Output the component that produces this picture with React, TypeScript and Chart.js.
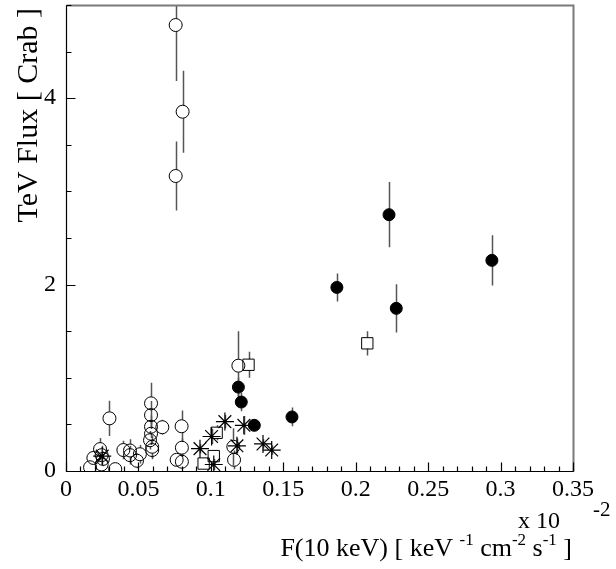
import { useEffect, useRef } from "react";
import { Chart, registerables } from "chart.js";

Chart.register(...registerables);

// X in units of 10^-2 keV^-1 cm^-2 s^-1, Y in Crab units
const filledX = [0.119, 0.121, 0.130, 0.156, 0.187, 0.223, 0.228, 0.294];
const filledY = [0.90, 0.74, 0.49, 0.58, 1.97, 2.75, 1.745, 2.26];
const filledErr = [0.10, 0.10, 0.06, 0.10, 0.15, 0.35, 0.26, 0.27];

const openX = [0.0757, 0.0805, 0.0757, 0.119, 0.030, 0.0587, 0.0587, 0.0587, 0.0587, 0.058, 0.0595, 0.0595, 0.0665, 0.0798, 0.080, 0.080, 0.0764, 0.0396, 0.0442, 0.0442, 0.049, 0.051, 0.0235, 0.0246, 0.0255, 0.0189, 0.0166, 0.034, 0.0246, 0.1155, 0.116];
const openY = [4.785, 3.855, 3.165, 1.13, 0.565, 0.726, 0.60, 0.475, 0.40, 0.33, 0.26, 0.225, 0.47, 0.48, 0.25, 0.10, 0.12, 0.225, 0.22, 0.17, 0.11, 0.18, 0.235, 0.17, 0.13, 0.14, 0.04, 0.02, 0.07, 0.26, 0.12];
const openErr = [0.6, 0.44, 0.37, 0.37, 0.19, 0.22, 0.15, 0.12, 0.12, 0.10, 0.12, 0.10, 0.08, 0.17, 0.10, 0.08, 0.06, 0.10, 0.12, 0.10, 0.08, 0.10, 0.12, 0.10, 0.08, 0.06, 0.05, 0.04, 0.05, 0.20, 0.10];

const squareX = [0.208, 0.126, 0.104, 0.102, 0.095];
const squareY = [1.37, 1.14, 0.41, 0.16, 0.08];
const squareErr = [0.13, 0.14, 0.08, 0.06, 0.05];

const starX = [0.0925, 0.1005, 0.102, 0.1097, 0.1228, 0.118, 0.136, 0.142, 0.025];
const starY = [0.24, 0.37, 0.07, 0.53, 0.49, 0.27, 0.29, 0.225, 0.16];
const starErr = [0.05, 0.08, 0.06, 0.07, 0.10, 0.08, 0.05, 0.05, 0.05];

const xLabelTicks = [0, 0.05, 0.1, 0.15, 0.2, 0.25, 0.3, 0.35];
const yLabelTicks = [0, 2, 4];

const SERIF = "'Liberation Serif', 'DejaVu Serif', serif";

const toPts = (xs: number[], ys: number[]) => xs.map((x, i) => ({ x, y: ys[i] }));

const errorBarPlugin = {
  id: "errorBars",
  beforeDatasetsDraw(chart: any) {
    const ctx = chart.ctx;
    const xs = chart.scales.x;
    const ys = chart.scales.y;
    const ca = chart.chartArea;
    ctx.save();
    ctx.beginPath();
    ctx.rect(ca.left, ca.top, ca.right - ca.left, ca.bottom - ca.top);
    ctx.clip();
    ctx.strokeStyle = "#555";
    ctx.lineWidth = 1.5;
    chart.data.datasets.forEach((ds: any) => {
      const errs: number[] = ds.errs || [];
      const gap = ds.gap || 0;
      ds.data.forEach((p: any, i: number) => {
        const e = errs[i];
        if (!e) return;
        const px = Math.round(xs.getPixelForValue(p.x)) + 0.5;
        const py = ys.getPixelForValue(p.y);
        const top = ys.getPixelForValue(p.y + e);
        const bot = ys.getPixelForValue(p.y - e);
        ctx.beginPath();
        if (top < py - gap) {
          ctx.moveTo(px, top);
          ctx.lineTo(px, py - gap);
        }
        if (bot > py + gap) {
          ctx.moveTo(px, py + gap);
          ctx.lineTo(px, bot);
        }
        ctx.stroke();
      });
    });
    ctx.restore();
  },
};

const framePlugin = {
  id: "frame",
  afterDraw(chart: any) {
    const ctx = chart.ctx;
    const ca = chart.chartArea;
    const xs = chart.scales.x;
    const ys = chart.scales.y;
    const L = Math.round(ca.left) + 0.5;
    const R = Math.round(ca.right) + 0.5;
    const T = Math.round(ca.top) + 0.5;
    const B = Math.round(ca.bottom) + 0.5;
    ctx.save();
    // top and right frame
    ctx.strokeStyle = "#7a7a7a";
    ctx.lineWidth = 2;
    ctx.beginPath();
    ctx.moveTo(L, T);
    ctx.lineTo(R, T);
    ctx.lineTo(R, B);
    ctx.stroke();
    // axes
    ctx.strokeStyle = "#000";
    ctx.lineWidth = 1.2;
    ctx.beginPath();
    ctx.moveTo(L, T);
    ctx.lineTo(L, B);
    ctx.lineTo(R, B);
    ctx.stroke();
    // y ticks
    ctx.beginPath();
    for (let k = 0; k <= 10; k++) {
      const v = k * 0.5;
      const py = Math.round(ys.getPixelForValue(v)) + 0.5;
      const len = k % 4 === 0 ? 9 : 5;
      ctx.moveTo(L, py);
      ctx.lineTo(L + len, py);
    }
    // x ticks
    for (let k = 0; k <= 35; k++) {
      const v = k * 0.01;
      const px = Math.round(xs.getPixelForValue(v)) + 0.5;
      const len = k % 5 === 0 ? 9 : 5;
      ctx.moveTo(px, B);
      ctx.lineTo(px, B - len);
    }
    ctx.stroke();

    ctx.fillStyle = "#000";
    // y title
    ctx.save();
    ctx.translate(37, 8);
    ctx.rotate(-Math.PI / 2);
    ctx.font = `30px ${SERIF}`;
    ctx.textAlign = "right";
    ctx.textBaseline = "alphabetic";
    ctx.fillText("TeV Flux [ Crab ]", 0, 0);
    ctx.restore();

    // multiplier
    ctx.font = `24px ${SERIF}`;
    ctx.textAlign = "left";
    ctx.textBaseline = "alphabetic";
    ctx.fillText("x 10", 518, 528);
    ctx.font = `21px ${SERIF}`;
    ctx.fillText("-2", 593, 516);

    // x title, right aligned at 572
    const parts: [string, boolean][] = [
      ["F(10 keV) [ keV ", false],
      ["-1", true],
      [" cm", false],
      ["-2", true],
      [" s", false],
      ["-1", true],
      [" ]", false],
    ];
    const mainFont = `26px ${SERIF}`;
    const supFont = `17px ${SERIF}`;
    let total = 0;
    const widths = parts.map(([t, sup]) => {
      ctx.font = sup ? supFont : mainFont;
      const w = ctx.measureText(t).width;
      total += w;
      return w;
    });
    let x = 572 - total;
    const base = 556;
    parts.forEach(([t, sup], i) => {
      ctx.font = sup ? supFont : mainFont;
      ctx.fillText(t, x, sup ? base - 11 : base);
      x += widths[i];
    });
    ctx.restore();
  },
};

export default function App() {
  const ref = useRef<HTMLCanvasElement>(null);
  useEffect(() => {
    const canvas = ref.current;
    if (!canvas) return;
    const chart = new Chart(canvas, {
      type: "scatter",
      data: {
        datasets: [
          {
            label: "open",
            data: toPts(openX, openY),
            pointStyle: "circle",
            pointRadius: 6.5,
            borderColor: "#000",
            backgroundColor: "rgba(0,0,0,0)",
            borderWidth: 1,
            errs: openErr,
            gap: 6.5,
          } as any,
          {
            label: "square",
            data: toPts(squareX, squareY),
            pointStyle: "rect",
            pointRadius: 8,
            borderColor: "#000",
            backgroundColor: "rgba(0,0,0,0)",
            borderWidth: 1,
            errs: squareErr,
            gap: 5.5,
          } as any,
          {
            label: "star",
            data: toPts(starX, starY),
            pointStyle: "star",
            pointRadius: 9,
            borderColor: "#000",
            backgroundColor: "#000",
            borderWidth: 1.2,
            errs: starErr,
            gap: 0,
          } as any,
          {
            label: "filled",
            data: toPts(filledX, filledY),
            pointStyle: "circle",
            pointRadius: 6,
            borderColor: "#000",
            backgroundColor: "#000",
            borderWidth: 1,
            errs: filledErr,
            gap: 0,
          } as any,
        ],
      },
      options: {
        responsive: false,
        animation: false,
        layout: { autoPadding: false, padding: { top: 5, right: 43, left: 0, bottom: 0 } },
        plugins: {
          legend: { display: false },
          tooltip: { enabled: false },
        },
        scales: {
          x: {
            type: "linear",
            min: 0,
            max: 0.35,
            grid: { display: false, drawTicks: false },
            border: { display: false },
            afterFit: (s: any) => {
              s.height = 98;
              s.paddingLeft = 0;
              s.paddingRight = 0;
            },
            afterBuildTicks: (ax: any) => {
              ax.ticks = xLabelTicks.map((v) => ({ value: v }));
            },
            ticks: {
              color: "#000",
              font: { family: SERIF, size: 24 },
              padding: 4,
              maxRotation: 0,
              autoSkip: false,
              callback: (v: any) => (v === 0 ? "0" : String(+Number(v).toFixed(2))),
            },
          },
          y: {
            type: "linear",
            min: 0,
            max: 5,
            grid: { display: false, drawTicks: false },
            border: { display: false },
            afterFit: (s: any) => {
              s.width = 66;
              s.paddingTop = 0;
              s.paddingBottom = 0;
            },
            afterBuildTicks: (ax: any) => {
              ax.ticks = yLabelTicks.map((v) => ({ value: v }));
            },
            ticks: {
              color: "#000",
              font: { family: SERIF, size: 24 },
              padding: 10,
              autoSkip: false,
              callback: (v: any) => String(v),
            },
          },
        },
      } as any,
      plugins: [errorBarPlugin, framePlugin],
    });
    return () => chart.destroy();
  }, []);
  return (
    <div style={{ position: "fixed", left: 0, top: 0, width: 616, height: 569, background: "#fff" }}>
      <canvas ref={ref} width={616} height={569} style={{ width: 616, height: 569, display: "block" }} />
    </div>
  );
}
